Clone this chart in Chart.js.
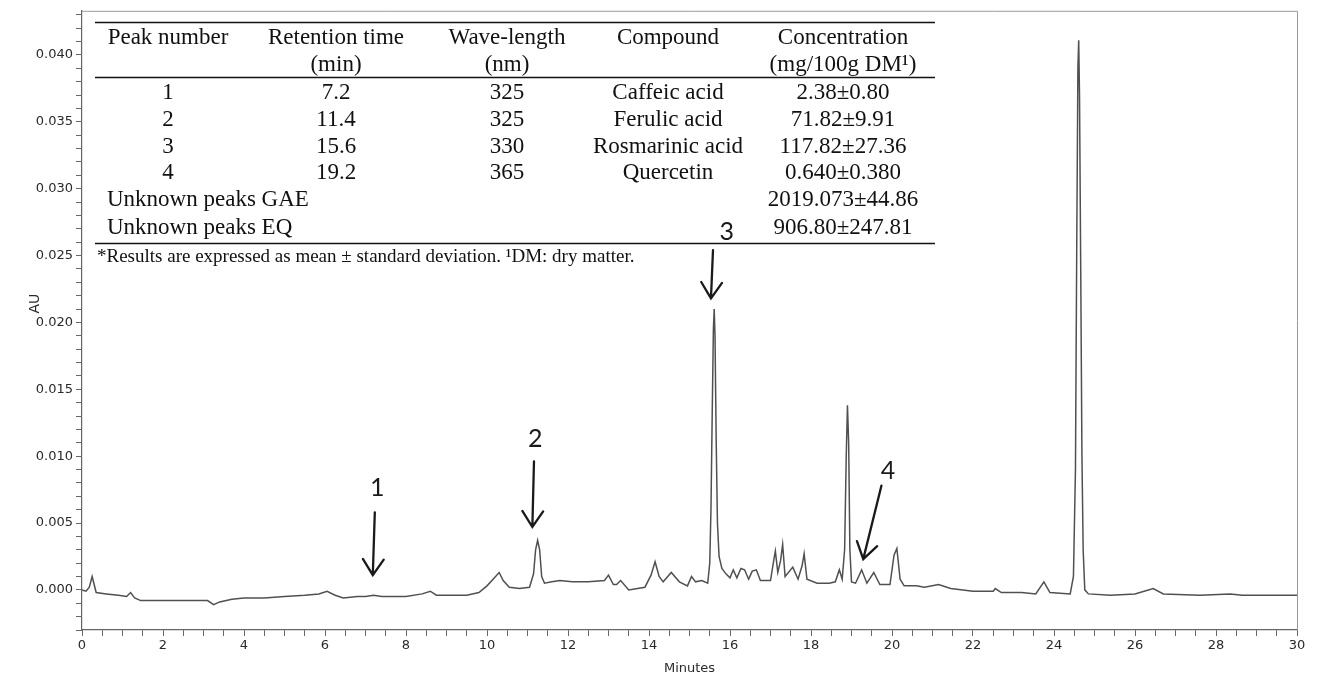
<!DOCTYPE html>
<html>
<head>
<meta charset="utf-8">
<title>HPLC chromatogram</title>
<script src="https://cdn.jsdelivr.net/npm/chart.js@4.4.1/dist/chart.umd.min.js"></script>
<style>
  body { margin: 0; background: #fff; }
  #wrap { width: 1317px; height: 680px; position: relative; background: #fff; }
</style>
</head>
<body>
<div id="wrap"><canvas id="chromatogram"></canvas></div>
<script>
// Trace: retention time (min) and absorbance (AU)
const retentionTime = [
  0.00, 0.10, 0.18, 0.25, 0.30, 0.35, 0.60, 0.90, 1.10, 1.20, 1.30, 1.45, 2.00, 2.50, 3.10, 3.25, 3.40, 3.70,
  4.00, 4.50, 5.00, 5.50, 5.85, 6.05, 6.25, 6.45, 6.80, 7.00, 7.20, 7.40, 8.00, 8.40, 8.60, 8.75, 9.00, 9.50,
  9.80, 10.00, 10.15, 10.30, 10.40, 10.55, 10.80, 11.05, 11.15, 11.20, 11.25, 11.30, 11.35, 11.42, 11.60, 11.80,
  12.10, 12.50, 12.90, 13.00, 13.12, 13.20, 13.30, 13.50, 13.90, 14.05, 14.15, 14.25, 14.35, 14.55, 14.75, 14.95,
  15.05, 15.15, 15.30, 15.45, 15.50, 15.53, 15.56, 15.59, 15.61, 15.63, 15.66, 15.69, 15.73, 15.80, 15.90, 16.00,
  16.08, 16.17, 16.27, 16.36, 16.46, 16.55, 16.65, 16.75, 17.00, 17.08, 17.12, 17.18, 17.25, 17.30, 17.36, 17.55,
  17.68, 17.78, 17.83, 17.90, 18.15, 18.45, 18.60, 18.70, 18.77, 18.83, 18.87, 18.90, 18.93, 18.96, 19.00, 19.10,
  19.25, 19.38, 19.55, 19.70, 19.95, 20.05, 20.12, 20.20, 20.30, 20.60, 20.80, 21.15, 21.45, 22.00, 22.50, 22.55,
  22.70, 23.20, 23.55, 23.75, 23.90, 24.40, 24.48, 24.53, 24.56, 24.59, 24.61, 24.63, 24.66, 24.69, 24.72, 24.76,
  24.85, 25.40, 26.00, 26.45, 26.70, 27.60, 28.35, 28.65, 30.00
];
const absorbance = [
  0.0000, -0.0001, 0.0002, 0.0010, 0.0004, -0.0002, -0.0003, -0.0004, -0.0005, -0.0002, -0.0006, -0.0008, -0.0008, -0.0008, -0.0008, -0.0011, -0.0009, -0.0007,
  -0.0006, -0.0006, -0.0005, -0.0004, -0.0003, -0.0001, -0.0004, -0.0006, -0.0005, -0.0005, -0.0004, -0.0005, -0.0005, -0.0003, -0.0001, -0.0004, -0.0004, -0.0004,
  -0.0002, 0.0003, 0.0008, 0.0013, 0.0007, 0.0002, 0.0001, 0.0002, 0.0012, 0.0030, 0.0037, 0.0030, 0.0010, 0.0005, 0.0006, 0.0007,
  0.0006, 0.0006, 0.0007, 0.0011, 0.0004, 0.0004, 0.0007, 0.0000, 0.0002, 0.0011, 0.0021, 0.0010, 0.0006, 0.0013, 0.0006, 0.0003,
  0.0010, 0.0006, 0.0007, 0.0005, 0.0020, 0.0060, 0.0130, 0.0195, 0.0210, 0.0190, 0.0110, 0.0050, 0.0025, 0.0016, 0.0012, 0.0009,
  0.0015, 0.0009, 0.0016, 0.0015, 0.0008, 0.0014, 0.0015, 0.0007, 0.0007, 0.0022, 0.0029, 0.0013, 0.0022, 0.0034, 0.0010, 0.0017,
  0.0008, 0.0018, 0.0027, 0.0008, 0.0005, 0.0005, 0.0006, 0.0015, 0.0008, 0.0030, 0.0100, 0.0138, 0.0110, 0.0030, 0.0006, 0.0005,
  0.0015, 0.0005, 0.0013, 0.0004, 0.0004, 0.0026, 0.0031, 0.0008, 0.0003, 0.0003, 0.0002, 0.0004, 0.0001, -0.0001, -0.0001, 0.0001,
  -0.0002, -0.0002, -0.0003, 0.0006, -0.0002, -0.0003, 0.0010, 0.0090, 0.0250, 0.0390, 0.0411, 0.0370, 0.0240, 0.0100, 0.0030, 0.0000,
  -0.0003, -0.0004, -0.0003, 0.0001, -0.0003, -0.0004, -0.0003, -0.0004, -0.0004
];

// axis range and labelled ticks
const xMin = 0, xMax = 30;
const yMin = -0.003, yMax = 0.0433;
const xTickLabels = [0, 2, 4, 6, 8, 10, 12, 14, 16, 18, 20, 22, 24, 26, 28, 30];
const yTickLabels = ['0.000', '0.005', '0.010', '0.015', '0.020', '0.025', '0.030', '0.035', '0.040'];
const yTitle = 'AU', yTitleAt = 0.0214;   // the AU label sits between the 0.020 and 0.025 labels

// numbered arrows: tail, tip and label position, in (min, AU)
const peakArrows = [
  { label: '1', tail: [7.23, 0.0058], tip: [7.18, 0.0011], text: [7.29, 0.0076] },
  { label: '2', tail: [11.16, 0.0096], tip: [11.12, 0.0047], text: [11.19, 0.0113] },
  { label: '3', tail: [15.58, 0.0254], tip: [15.53, 0.0218], text: [15.92, 0.0268] },
  { label: '4', tail: [19.74, 0.0078], tip: [19.29, 0.0023], text: [19.90, 0.0089] }
];

// inset table
const tableHead1 = ['Peak number', 'Retention time', 'Wave-length', 'Compound', 'Concentration'];
const tableHead2 = ['', '(min)', '(nm)', '', '(mg/100g DM\u00B9)'];
const peakNumbers = ['1', '2', '3', '4'];
const retentionMin = ['7.2', '11.4', '15.6', '19.2'];
const waveLength = ['325', '325', '330', '365'];
const compounds = ['Caffeic acid', 'Ferulic acid', 'Rosmarinic acid', 'Quercetin'];
const concentrations = ['2.38\u00B10.80', '71.82\u00B19.91', '117.82\u00B127.36', '0.640\u00B10.380'];
const unknownNames = ['Unknown peaks GAE', 'Unknown peaks EQ'];
const unknownConc = ['2019.073\u00B144.86', '906.80\u00B1247.81'];
const footnote = '*Results are expressed as mean \u00B1 standard deviation. \u00B9DM: dry matter.';

Chart.defaults.font.family = '"DejaVu Sans", sans-serif';
Chart.defaults.font.size = 13;
Chart.defaults.color = '#2a2a2a';

// frame around the plot (top and right sides) and the AU axis label
const framePlugin = {
  id: 'frame',
  beforeDatasetsDraw(chart) {
    const { ctx, chartArea: a } = chart;
    ctx.save();
    ctx.strokeStyle = '#999';
    ctx.lineWidth = 1;
    ctx.beginPath();
    ctx.moveTo(a.left, a.top + 0.5);
    ctx.lineTo(a.right + 0.5, a.top + 0.5);
    ctx.lineTo(a.right + 0.5, a.bottom);
    ctx.stroke();

    ctx.translate(a.left - 47, chart.scales.y.getPixelForValue(yTitleAt));
    ctx.rotate(-Math.PI / 2);
    ctx.font = '14px "DejaVu Sans", sans-serif';
    ctx.fillStyle = '#2a2a2a';
    ctx.textAlign = 'center';
    ctx.textBaseline = 'middle';
    ctx.fillText(yTitle, 0, 0);
    ctx.restore();
  }
};

// arrows with peak numbers
const arrowPlugin = {
  id: 'arrows',
  afterDatasetsDraw(chart) {
    const { ctx } = chart;
    const xs = chart.scales.x, ys = chart.scales.y;
    ctx.save();
    ctx.strokeStyle = '#1a1a1a';
    ctx.fillStyle = '#1a1a1a';
    ctx.lineWidth = 2.3;
    ctx.lineCap = 'round';
    peakArrows.forEach(a => {
      const x1 = xs.getPixelForValue(a.tail[0]), y1 = ys.getPixelForValue(a.tail[1]);
      const x2 = xs.getPixelForValue(a.tip[0]), y2 = ys.getPixelForValue(a.tip[1]);
      const ang = Math.atan2(y2 - y1, x2 - x1);
      const len = 19, spread = 0.58;
      ctx.beginPath();
      ctx.moveTo(x1, y1);
      ctx.lineTo(x2, y2);
      ctx.moveTo(x2 - len * Math.cos(ang - spread), y2 - len * Math.sin(ang - spread));
      ctx.lineTo(x2, y2);
      ctx.lineTo(x2 - len * Math.cos(ang + spread), y2 - len * Math.sin(ang + spread));
      ctx.stroke();
      ctx.font = '25px Lato, "Open Sans", sans-serif';
      ctx.textAlign = 'center';
      ctx.textBaseline = 'middle';
      ctx.fillText(a.label, xs.getPixelForValue(a.text[0]), ys.getPixelForValue(a.text[1]));
    });
    ctx.restore();
  }
};

// inset results table
const tablePlugin = {
  id: 'table',
  afterDraw(chart) {
    const { ctx } = chart;
    const cols = [168, 336, 507, 668, 843];
    const left = 95, right = 935, textLeft = 107;
    ctx.save();
    ctx.fillStyle = '#111';
    ctx.strokeStyle = '#111';
    ctx.lineWidth = 1.3;
    [22, 77, 243].forEach(y => {
      ctx.beginPath();
      ctx.moveTo(left, y + 0.5);
      ctx.lineTo(right, y + 0.5);
      ctx.stroke();
    });
    ctx.font = '23px "Liberation Serif", "Times New Roman", serif';
    ctx.textBaseline = 'middle';
    ctx.textAlign = 'center';
    tableHead1.forEach((t, i) => ctx.fillText(t, cols[i], 38));
    tableHead2.forEach((t, i) => ctx.fillText(t, cols[i], 65));
    const rowY = [93, 120, 147, 173];
    rowY.forEach((y, r) => {
      ctx.fillText(peakNumbers[r], cols[0], y);
      ctx.fillText(retentionMin[r], cols[1], y);
      ctx.fillText(waveLength[r], cols[2], y);
      ctx.fillText(compounds[r], cols[3], y);
      ctx.fillText(concentrations[r], cols[4], y);
    });
    [200, 228].forEach((y, r) => {
      ctx.textAlign = 'left';
      ctx.fillText(unknownNames[r], textLeft, y);
      ctx.textAlign = 'center';
      ctx.fillText(unknownConc[r], cols[4], y);
    });
    ctx.textAlign = 'left';
    ctx.font = '19px "Liberation Serif", "Times New Roman", serif';
    ctx.fillText(footnote, 97, 257);
    ctx.restore();
  }
};

new Chart(document.getElementById('chromatogram'), {
  type: 'line',
  data: {
    datasets: [{
      label: 'Absorbance',
      data: retentionTime.map((t, i) => ({ x: t, y: absorbance[i] })),
      borderColor: '#505050',
      borderWidth: 1.5,
      pointRadius: 0,
      tension: 0,
      fill: false
    }]
  },
  options: {
    responsive: true,
    maintainAspectRatio: false,
    animation: false,
    layout: { padding: { top: 8, right: 20, left: 0, bottom: 0 } },
    plugins: { legend: { display: false }, tooltip: { enabled: false } },
    scales: {
      x: {
        type: 'linear',
        min: xMin,
        max: xMax,
        afterFit(scale) { scale.height = 50; },
        border: { color: '#666', width: 1.2 },
        grid: { drawOnChartArea: false, tickLength: 6, color: '#666' },
        ticks: {
          stepSize: 0.5,
          autoSkip: false,
          maxTicksLimit: 100,
          maxRotation: 0,
          padding: 2,
          callback: v => (xTickLabels.includes(Math.round(v * 10) / 10) ? String(v) : '')
        },
        title: { display: true, text: 'Minutes', padding: { top: 0, bottom: 4 } }
      },
      y: {
        type: 'linear',
        min: yMin,
        max: yMax,
        afterFit(scale) { scale.width = 82; },
        border: { color: '#666', width: 1.2 },
        grid: { drawOnChartArea: false, tickLength: 6, color: '#666' },
        ticks: {
          stepSize: 0.001,
          autoSkip: false,
          maxTicksLimit: 100,
          includeBounds: false,
          padding: 3,
          callback: v => {
            const s = (Math.abs(v) < 1e-9 ? 0 : v).toFixed(3);
            return yTickLabels.includes(s) ? s : '';
          }
        },
        title: { display: false }
      }
    }
  },
  plugins: [framePlugin, arrowPlugin, tablePlugin]
});
</script>
</body>
</html>
